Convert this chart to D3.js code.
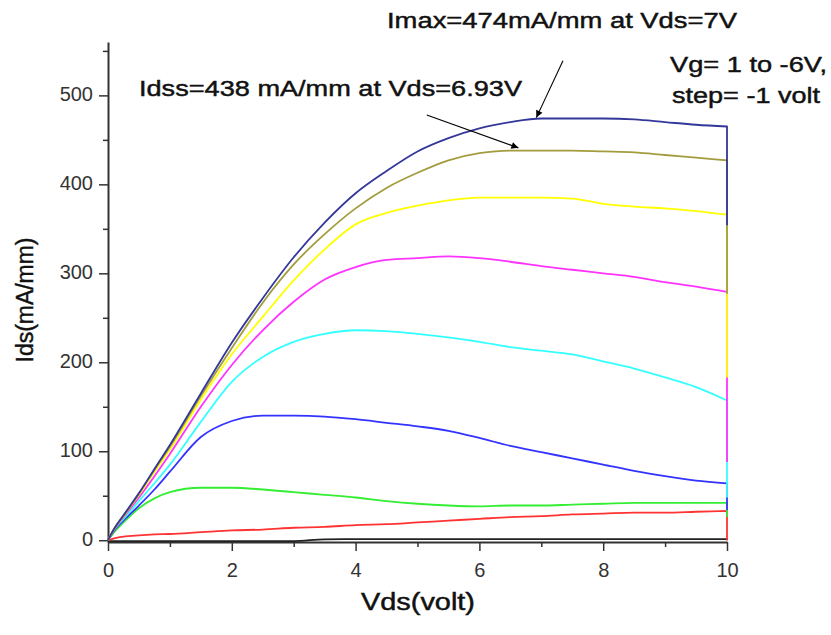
<!DOCTYPE html>
<html>
<head>
<meta charset="utf-8">
<script src="https://cdn.jsdelivr.net/npm/d3@7"></script>
<style>
  body { margin: 0; background: #fff; }
  svg { display: block; font-family: Arial, "Liberation Sans", sans-serif; }
</style>
</head>
<body>
<svg id="chart" width="831" height="635"></svg>
<script>
// Drain voltage sweep points (V)
const vds = [0, 0.1, 0.25, 0.5, 0.75, 1, 1.5, 2, 2.5, 3, 3.5, 4, 4.5, 5, 5.5, 6, 6.5, 7, 7.5, 8, 8.5, 9, 9.5, 10];

// Drain current (mA/mm) per gate voltage
const idsVgPos1 = [0, 13, 28, 53, 80, 107, 165, 222, 272, 318, 357, 390, 415, 437, 452, 463, 470, 474, 474, 474, 473, 470, 467, 465];
const idsVg0    = [0, 13, 27, 52, 79, 105, 162, 216, 267, 310, 344, 373, 396, 413, 427, 435, 438, 438, 438, 437, 436, 433, 430, 427];
const idsVgNeg1 = [0, 13, 27, 51, 77, 102, 158, 209, 251, 292, 327, 355, 368, 376, 382, 385, 385, 385, 384, 378, 375, 373, 370, 366];
const idsVgNeg2 = [0, 12, 26, 48, 72, 97, 150, 197, 236, 268, 293, 307, 315, 317, 319, 317, 313, 308, 304, 300, 296, 290, 285, 279];
const idsVgNeg3 = [0, 12, 24, 44, 64, 85, 133, 178, 206, 223, 232, 236, 235, 232, 228, 223, 217, 213, 209, 201, 193, 183, 172, 157];
const idsVgNeg4 = [0, 11, 22, 39, 57, 77, 116, 134, 140, 140, 139, 136, 132, 128, 123, 115, 106, 99, 92, 85, 78, 72, 67, 64];
const idsVgNeg5 = [0, 9, 20, 36, 47, 54, 59, 59, 57, 54, 51, 48, 44, 41, 39, 38, 39, 39, 40, 41, 42, 42, 42, 42];
const idsVgNeg6 = [0, 2, 4, 5.5, 6.5, 7, 9, 11, 12, 14, 15, 17, 18, 20, 22, 24, 26, 27, 29, 30, 31, 31, 32, 33];
const idsOff    = [-1, -1, -1, -1, -1, -1, -1, -1, -1, -1, 1, 1.2, 1.2, 1.2, 1.2, 1.2, 1.2, 1.2, 1.2, 1.2, 1.2, 1.2, 1.2, 1.2];

// Current reached at the end of each sweep's fall-back at Vds = 10 V
const dropAt10 = [354, 277, 183, 88, 48, 34, 26, 0, 0];

const seriesValues = [idsVgPos1, idsVg0, idsVgNeg1, idsVgNeg2, idsVgNeg3, idsVgNeg4, idsVgNeg5, idsVgNeg6, idsOff];
const seriesColors = ["#33379a", "#a39c3e", "#ffff00", "#ff33ff", "#33ffff", "#3333ff", "#33ee33", "#ff3333", "#222222"];

const xMajorTicks = [0, 2, 4, 6, 8, 10];
const xMinorTicks = [1, 3, 5, 7, 9];
const yMajorTicks = [0, 100, 200, 300, 400, 500];
const yMinorTicks = [50, 150, 250, 350, 450, 550];

// Annotation arrows: [Vds, Ids] tail and tip
const imaxArrow = [[7.35, 539], [6.92, 475]];
const idssArrow = [[5.15, 478], [6.63, 441]];

const svg = d3.select("#chart");

const x = d3.scaleLinear().domain([0, 10]).range([108, 727]);
const y = d3.scaleLinear().domain([-2, 560]).range([542, 42]);

// Axes
const axisColor = "#333";
const gx = svg.append("g").attr("transform", `translate(0,${y(-2)})`);
gx.call(d3.axisBottom(x).tickValues(xMinorTicks).tickSize(5).tickSizeOuter(0).tickFormat(""));
gx.call(g => g.select(".domain").remove());
const gxMajor = svg.append("g").attr("transform", `translate(0,${y(-2)})`)
  .call(d3.axisBottom(x).tickValues(xMajorTicks).tickSize(9).tickSizeOuter(0).tickPadding(12).tickFormat(d3.format("d")));

const gy = svg.append("g").attr("transform", `translate(${x(0)},0)`);
gy.call(d3.axisLeft(y).tickValues(yMinorTicks).tickSize(5).tickSizeOuter(0).tickFormat(""));
gy.call(g => g.select(".domain").remove());
const gyMajor = svg.append("g").attr("transform", `translate(${x(0)},0)`)
  .call(d3.axisLeft(y).tickValues(yMajorTicks).tickSize(9).tickSizeOuter(0).tickPadding(6).tickFormat(d3.format("d")));

svg.selectAll(".domain").attr("stroke", axisColor).attr("stroke-width", 2);
svg.selectAll(".tick line").attr("stroke", axisColor).attr("stroke-width", 1.5);
svg.selectAll(".tick text").attr("fill", "#333").attr("font-size", 20)
  .attr("font-family", "Arial, 'Liberation Sans', sans-serif");
gyMajor.selectAll(".tick text").attr("dy", "0.28em");

// Output curves, drawn from the lowest gate voltage up so the top sweep stays in front
const line = d3.line().x(d => x(d[0])).y(d => y(d[1])).curve(d3.curveMonotoneX);
const curves = svg.append("g").attr("fill", "none").attr("stroke-width", 1.8);
for (let i = seriesValues.length - 1; i >= 0; i--) {
  const pts = vds.map((v, k) => [v, seriesValues[i][k]]);
  const d = line(pts) + `L${x(10)},${y(dropAt10[i])}`;
  curves.append("path").attr("d", d).attr("stroke", seriesColors[i]);
}

// Arrow markers
svg.append("defs").append("marker")
  .attr("id", "arrowhead")
  .attr("viewBox", "0 0 10 10")
  .attr("refX", 10).attr("refY", 5)
  .attr("markerWidth", 9).attr("markerHeight", 7)
  .attr("markerUnits", "userSpaceOnUse")
  .attr("orient", "auto")
  .append("path").attr("d", "M0,0L10,5L0,10Z").attr("fill", "#000");

for (const a of [imaxArrow, idssArrow]) {
  svg.append("line")
    .attr("x1", x(a[0][0])).attr("y1", y(a[0][1]))
    .attr("x2", x(a[1][0])).attr("y2", y(a[1][1]))
    .attr("stroke", "#000").attr("stroke-width", 1.1)
    .attr("marker-end", "url(#arrowhead)");
}

// Text labels
function label(text, px, py, size, len, rotate) {
  const t = svg.append("text")
    .attr("font-size", size)
    .attr("fill", "#111")
    .attr("stroke", "#111")
    .attr("stroke-width", 0.45)
    .attr("textLength", len)
    .attr("lengthAdjust", "spacingAndGlyphs")
    .text(text);
  if (rotate) {
    t.attr("transform", `translate(${px},${py}) rotate(-90)`).attr("x", -len / 2).attr("y", 0);
  } else {
    t.attr("x", px).attr("y", py);
  }
  return t;
}

label("Imax=474mA/mm at Vds=7V", 387, 28, 22, 350);
label("Idss=438 mA/mm at Vds=6.93V", 139, 96, 22, 383);
label("Vg= 1 to -6V,", 670, 72, 22, 157);
label("step= -1 volt", 672, 103, 22, 148);
label("Vds(volt)", 361, 610, 23, 114);
label("Ids(mA/mm)", 33, 300, 23, 125, true);
</script>
</body>
</html>
